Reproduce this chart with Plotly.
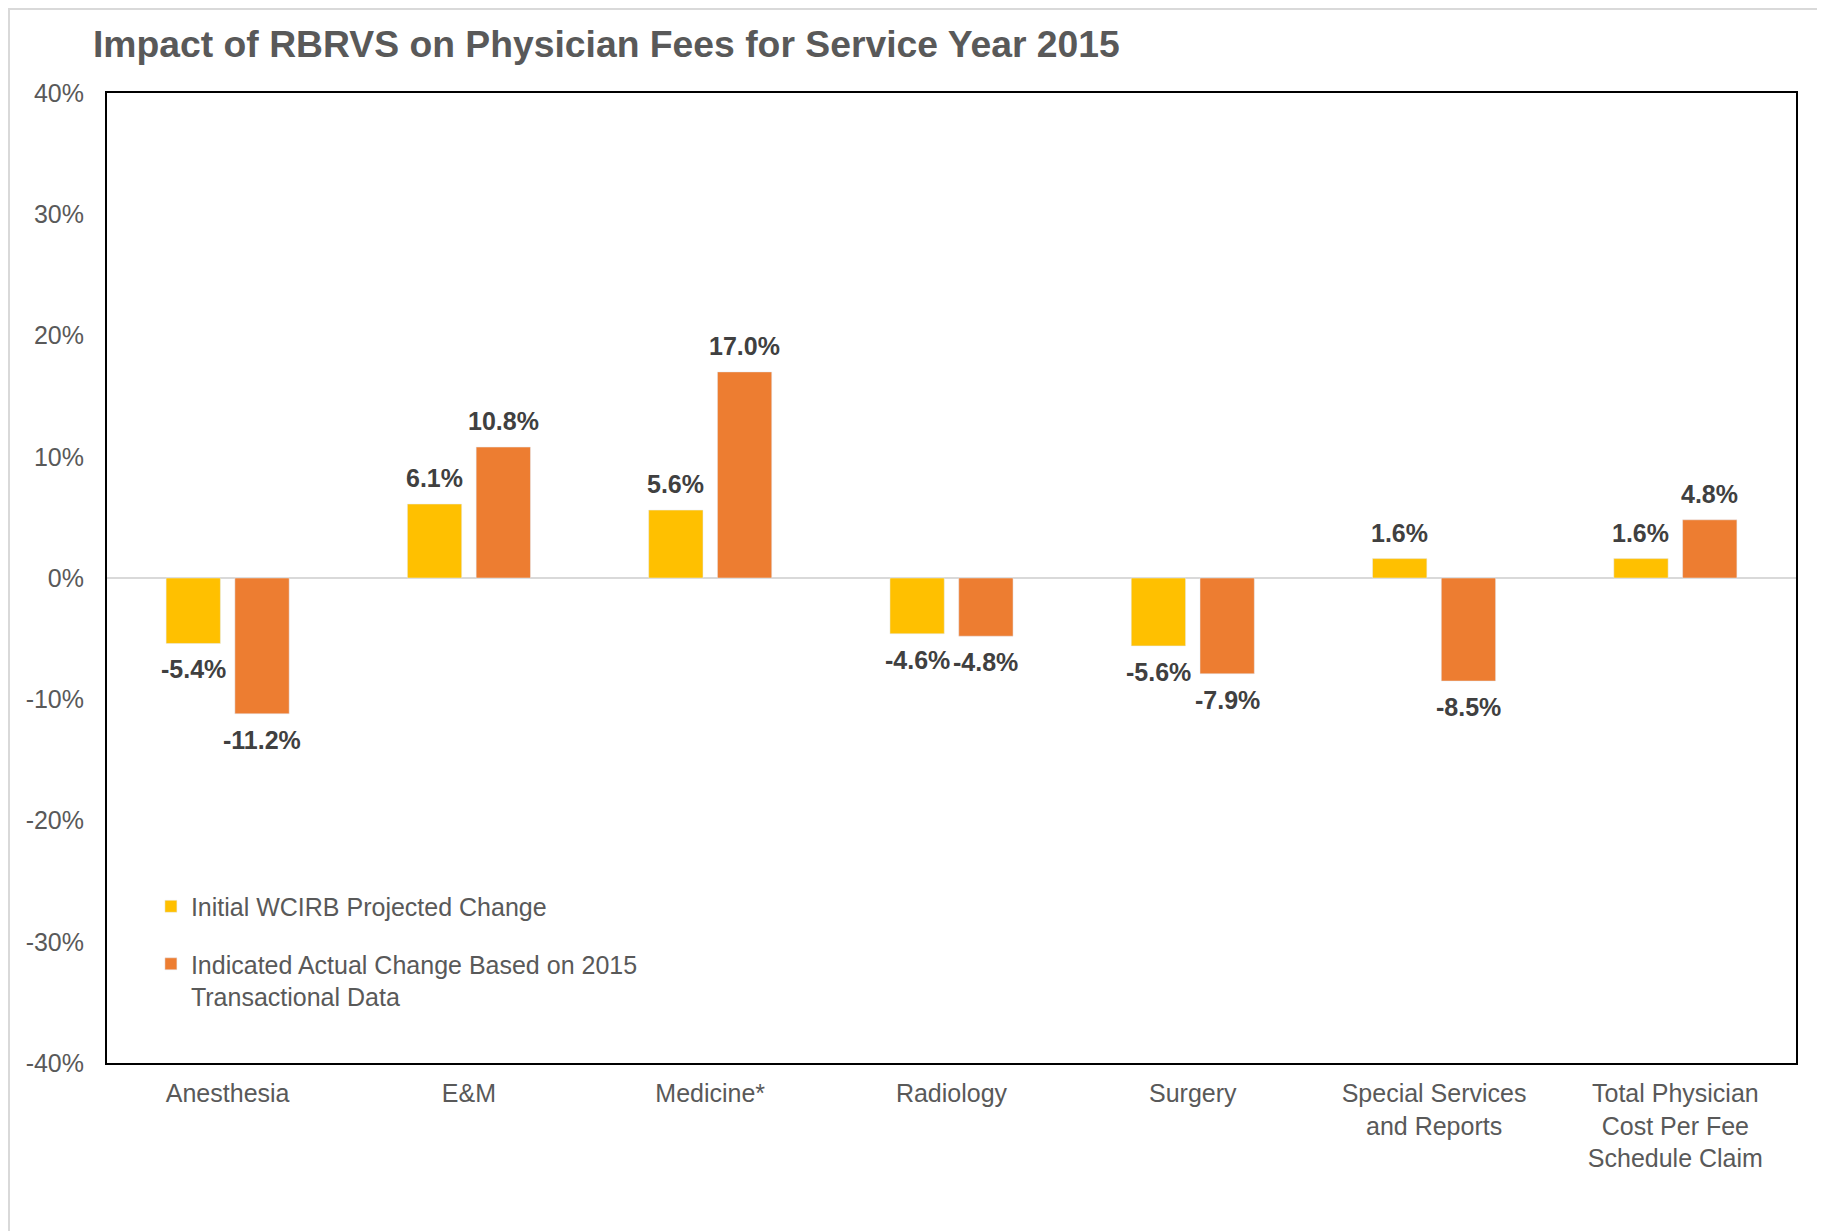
import plotly.graph_objects as go

categories = ["Anesthesia", "E&M", "Medicine*", "Radiology", "Surgery",
              "Special Services<br>and Reports",
              "Total Physician<br>Cost Per Fee<br>Schedule Claim"]
projected = [-5.4, 6.1, 5.6, -4.6, -5.6, 1.6, 1.6]
actual = [-11.2, 10.8, 17.0, -4.8, -7.9, -8.5, 4.8]
series_names = ["Initial WCIRB Projected Change",
                "Indicated Actual Change Based on 2015<br>Transactional Data"]
y_ticks = [-40, -30, -20, -10, 0, 10, 20, 30, 40]
y_tick_labels = [f"{v}%" for v in y_ticks]

W, H = 1825, 1231
ML, MR, MT, MB = 99, 37, 85, 176
BARGAP, GROUPGAP = 0.43, 0.21
plot_w = W - ML - MR
plot_h = H - MT - MB

fig = go.Figure()
fig.add_trace(go.Bar(x=categories, y=projected, name=series_names[0],
                     marker_color="#FFC000", legendgroup="a"))
fig.add_trace(go.Bar(x=categories, y=actual, name=series_names[1],
                     marker_color="#ED7D31", legendgroup="b"))

slot = plot_w / len(categories) * (1 - BARGAP) / 2
annotations = []
for vals, sgn in ((projected, -1), (actual, 1)):
    for c, v in zip(categories, vals):
        annotations.append(dict(
            x=c, y=v, xref="x", yref="y", text=f"<b>{v:.1f}%</b>",
            showarrow=False, xshift=sgn * slot / 2,
            yshift=26 if v >= 0 else -26, yanchor="middle",
            font=dict(family="Liberation Sans, Arial", size=25, color="#404040")))

fig.update_layout(
    width=W, height=H,
    margin=dict(l=ML, r=MR, t=MT, b=MB),
    paper_bgcolor="white", plot_bgcolor="white",
    barmode="group", bargap=BARGAP, bargroupgap=GROUPGAP,
    font=dict(family="Liberation Sans, Arial", size=25, color="#595959"),
    title=dict(text="<b>Impact of RBRVS on Physician Fees for Service Year 2015</b>",
               x=85 / W, xanchor="left", y=1 - 36 / H, yanchor="middle",
               font=dict(family="Liberation Sans, Arial", size=37.3, color="#595959")),
    legend=dict(x=0.026, y=0.185, xanchor="left", yanchor="top",
                bgcolor="rgba(0,0,0,0)", tracegroupgap=22, valign="top",
                font=dict(size=25, color="#595959")),
    annotations=annotations,
    showlegend=True,
    shapes=[
        dict(type="line", xref="paper", yref="paper",
             x0=(0 - ML) / plot_w, x1=(W - ML) / plot_w,
             y0=(H - MB - 1) / plot_h, y1=(H - MB - 1) / plot_h,
             line=dict(color="#D9D9D9", width=2)),
        dict(type="line", xref="paper", yref="paper",
             x0=(1 - ML) / plot_w, x1=(1 - ML) / plot_w,
             y0=(H - MB) / plot_h, y1=-MB / plot_h,
             line=dict(color="#D9D9D9", width=2)),
    ],
)
fig.update_xaxes(showline=True, linecolor="black", linewidth=2, mirror=True,
                 showgrid=False, ticks="", ticklabelstandoff=7,
                 tickfont=dict(size=25, color="#595959"))
fig.update_yaxes(range=[-40, 40], tickvals=y_ticks, ticktext=y_tick_labels,
                 showline=True, linecolor="black", linewidth=2, mirror=True,
                 showgrid=False, zeroline=True, zerolinecolor="#D9D9D9",
                 zerolinewidth=2, ticks="", ticklabelstandoff=16,
                 tickfont=dict(size=25, color="#595959"))

fig.write_html("out.html")
